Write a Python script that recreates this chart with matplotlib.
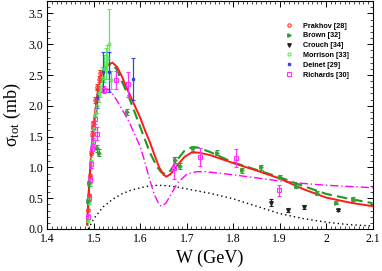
import matplotlib
matplotlib.use("Agg")
import matplotlib.pyplot as plt
from matplotlib.ticker import MultipleLocator
from matplotlib.lines import Line2D

# ---- model curves (W in GeV, sigma in mb) ----
w_red = [1.485, 1.490, 1.495, 1.500, 1.505, 1.510, 1.520, 1.530, 1.540, 1.550, 1.560, 1.570,
         1.585, 1.600, 1.610, 1.620, 1.630, 1.640, 1.650, 1.656, 1.665, 1.680, 1.695, 1.710,
         1.725, 1.750, 1.800, 1.850, 1.900, 1.950, 2.000, 2.050, 2.100]
s_red = [0.08, 0.75, 1.30, 1.72, 2.05, 2.30, 2.55, 2.67, 2.70, 2.63, 2.48, 2.30,
         2.05, 1.80, 1.60, 1.42, 1.21, 1.01, 0.88, 0.85, 0.89, 1.04, 1.17, 1.24,
         1.24, 1.20, 1.07, 0.95, 0.82, 0.65, 0.51, 0.43, 0.37]

w_grn = [1.486, 1.490, 1.495, 1.500, 1.510, 1.520, 1.530, 1.540, 1.550, 1.560, 1.575, 1.590,
         1.605, 1.620, 1.635, 1.645, 1.654, 1.665, 1.680, 1.695, 1.712, 1.725, 1.750, 1.800,
         1.850, 1.900, 1.950, 2.000, 2.050, 2.100]
s_grn = [0.05, 0.75, 1.30, 1.70, 2.28, 2.55, 2.66, 2.68, 2.58, 2.40, 2.15, 1.85,
         1.55, 1.25, 1.02, 0.92, 0.89, 0.95, 1.13, 1.27, 1.33, 1.32, 1.25, 1.08,
         0.96, 0.84, 0.70, 0.57, 0.49, 0.42]

w_mag = [1.486, 1.490, 1.495, 1.500, 1.505, 1.510, 1.520, 1.530, 1.540, 1.550, 1.560, 1.575,
         1.590, 1.600, 1.610, 1.620, 1.630, 1.640, 1.645, 1.655, 1.665, 1.680, 1.700, 1.720,
         1.740, 1.800, 1.850, 1.900, 1.950, 2.000, 2.050, 2.100]
s_mag = [0.07, 0.70, 1.30, 1.70, 1.95, 2.15, 2.27, 2.27, 2.20, 2.08, 1.95, 1.75,
         1.50, 1.33, 1.08, 0.80, 0.56, 0.40, 0.37, 0.42, 0.55, 0.75, 0.89, 0.93,
         0.93, 0.88, 0.83, 0.78, 0.74, 0.71, 0.69, 0.67]

w_dot = [1.488, 1.500, 1.520, 1.540, 1.560, 1.580, 1.600, 1.620, 1.640, 1.660, 1.680, 1.700,
         1.750, 1.800, 1.850, 1.900, 1.950, 2.000, 2.050, 2.100]
s_dot = [0.00, 0.17, 0.36, 0.48, 0.57, 0.63, 0.67, 0.70, 0.71, 0.70, 0.68, 0.65,
         0.58, 0.49, 0.37, 0.25, 0.17, 0.11, 0.07, 0.05]

# ---- data sets ----
prakhov_w = [1.4865, 1.489, 1.491, 1.493, 1.496, 1.499, 1.503, 1.507, 1.511, 1.514]
prakhov_s = [0.31, 0.55, 0.86, 1.23, 1.55, 1.72, 2.10, 2.31, 2.43, 2.53]
prakhov_e = [0.02, 0.02, 0.03, 0.03, 0.04, 0.04, 0.05, 0.05, 0.05, 0.05]

brown_w = [1.487, 1.490, 1.506, 1.510, 1.571, 1.674, 1.686, 1.713, 1.766, 1.818,
           1.859, 1.900, 1.935, 1.980, 2.022, 2.057]
brown_s = [0.45, 0.74, 1.31, 1.24, 1.90, 1.12, 1.02, 1.31, 1.24, 0.95,
           1.00, 0.84, 0.70, 0.58, 0.43, 0.49]
brown_e = [0.03, 0.04, 0.06, 0.06, 0.05, 0.05, 0.05, 0.04, 0.04, 0.04,
           0.04, 0.03, 0.03, 0.03, 0.03, 0.03]

crouch_w = [1.881, 1.917, 1.952, 2.025]
crouch_s = [0.43, 0.31, 0.36, 0.31]
crouch_e = [0.05, 0.03, 0.03, 0.02]

morrison_w = [1.487, 1.489, 1.491, 1.494, 1.497, 1.500, 1.503, 1.506, 1.510, 1.514,
              1.518, 1.522, 1.525, 1.529, 1.533, 1.536]
morrison_s = [0.15, 0.45, 0.75, 1.10, 1.40, 1.62, 1.85, 2.00, 2.20, 2.30,
              2.45, 2.60, 2.69, 2.77, 3.00, 2.42]
morrison_e = [0.04, 0.05, 0.06, 0.07, 0.08, 0.09, 0.10, 0.12, 0.14, 0.16,
              0.18, 0.22, 0.25, 0.22, 0.57, 0.15]

deinet_w = [1.506, 1.520, 1.533, 1.585]
deinet_s = [2.12, 2.55, 2.55, 2.44]
deinet_e = [0.16, 0.33, 0.33, 0.34]

richards_w = [1.487, 1.489, 1.491, 1.493, 1.495, 1.497, 1.499, 1.502, 1.506, 1.522,
              1.548, 1.573, 1.672, 1.729, 1.805, 1.898]
richards_s = [0.20, 0.50, 0.80, 1.05, 1.30, 1.41, 1.66, 1.79, 1.55, 2.26,
              2.42, 2.35, 0.99, 1.17, 1.15, 0.63]
richards_e = [0.04, 0.05, 0.06, 0.06, 0.07, 0.07, 0.08, 0.08, 0.10, 0.06,
              0.15, 0.20, 0.18, 0.14, 0.15, 0.09]

legend_labels = ["Prakhov [28]", "Brown [32]", "Crouch [34]", "Morrison [33]", "Deinet [29]", "Richards [30]"]

fig = plt.figure(figsize=(3.82, 2.71), dpi=100)
ax = fig.add_axes([0.1243, 0.155, 0.851, 0.841])

# curves
ax.plot(w_dot, s_dot, color="black", lw=1.0, ls=(0, (1, 2.2)), zorder=2)
ax.plot(w_mag, s_mag, color="#ff00ff", lw=1.0, ls=(0, (6, 2, 1, 2)), zorder=2)
ax.plot(w_grn, s_grn, color="#1e9a1e", lw=1.5, ls=(0, (5, 2.5)), zorder=3)
ax.plot(w_red, s_red, color="#ff1a1a", lw=1.4, zorder=4)

eb = dict(lw=0.9, capsize=1.6, capthick=0.8, zorder=5, ls="none")
ax.errorbar(morrison_w, morrison_s, yerr=morrison_e, color="#55ee55", marker="o", ms=2.2,
            mfc="none", mew=0.8, **eb)
ax.errorbar(richards_w, richards_s, yerr=richards_e, color="#ff33ff", marker="s", ms=2.2,
            mfc="none", mew=0.8, **eb)
ax.errorbar(deinet_w, deinet_s, yerr=deinet_e, color="#3344ee", marker="s", ms=1.8, **eb)
ax.errorbar(brown_w, brown_s, yerr=brown_e, color="#33a033", marker=">", ms=2.5, **eb)
ax.errorbar(crouch_w, crouch_s, yerr=crouch_e, color="#222222", marker="v", ms=2.5, **eb)
ax.errorbar(prakhov_w, prakhov_s, yerr=prakhov_e, color="#ff3333", marker="o", ms=2.4,
            mfc="none", mew=0.8, **eb)

ax.set_xlim(1.4, 2.1)
ax.set_ylim(0.0, 3.7)
ax.xaxis.set_major_locator(MultipleLocator(0.1))
ax.xaxis.set_minor_locator(MultipleLocator(0.01))
ax.yaxis.set_major_locator(MultipleLocator(0.5))
ax.yaxis.set_minor_locator(MultipleLocator(0.1))
ax.tick_params(which="both", direction="in", top=True, right=True, labelsize=8.5)
ax.tick_params(which="major", length=4, width=0.7)
ax.tick_params(which="minor", length=2, width=0.5)
for s in ax.spines.values():
    s.set_linewidth(0.8)

ax.set_xticks([1.4, 1.5, 1.6, 1.7, 1.8, 1.9, 2.0, 2.1])
ax.set_xticklabels(["1.4", "1.5", "1.6", "1.7", "1.8", "1.9", "2", "2.1"])
ax.set_yticks([0.0, 0.5, 1.0, 1.5, 2.0, 2.5, 3.0, 3.5])
ax.set_yticklabels(["0.0", "0.5", "1.0", "1.5", "2.0", "2.5", "3.0", "3.5"])
for lab in ax.get_xticklabels() + ax.get_yticklabels():
    lab.set_family("Liberation Serif")
ax.tick_params(axis="x", pad=3)
ax.tick_params(axis="y", pad=3)

ax.set_xlabel("W (GeV)", family="Liberation Serif", fontsize=13, labelpad=3)
ax.set_ylabel(r"$\mathregular{\sigma_{tot}}$ (mb)", family="Liberation Serif", fontsize=13, labelpad=4)

handles = [
    Line2D([], [], color="#ff3333", marker="o", ms=2.4, mfc="none", mew=0.8, ls="none"),
    Line2D([], [], color="#33a033", marker=">", ms=2.5, ls="none"),
    Line2D([], [], color="#222222", marker="v", ms=2.5, ls="none"),
    Line2D([], [], color="#55ee55", marker="o", ms=2.2, mfc="none", mew=0.8, ls="none"),
    Line2D([], [], color="#3344ee", marker="s", ms=1.8, ls="none"),
    Line2D([], [], color="#ff33ff", marker="s", ms=2.2, mfc="none", mew=0.8, ls="none"),
]
leg = ax.legend(handles, legend_labels, loc="upper right", bbox_to_anchor=(0.942, 0.928),
                frameon=False, prop={"family": "Liberation Sans", "weight": "bold", "size": 5.2},
                handlelength=1.0, handletextpad=1.4, labelspacing=0.38, borderpad=0.2)

fig.savefig("out.png", dpi=100)
